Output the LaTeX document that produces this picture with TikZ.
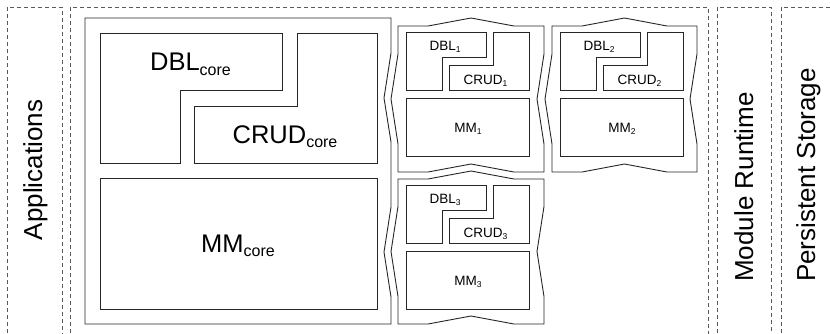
\documentclass[tikz,border=0pt]{standalone}
\usepackage{fontspec}
\setmainfont{Liberation Sans}

% lowered, smaller text for indices: size, drop, text
\newcommand\lowsub[3]{\raisebox{-#2pt}{\fontsize{#1}{#1}\selectfont #3}}

% one module piece: index, left, top, width, height
\newcommand\modpiece[5]{%
  \draw[box] (#2,#3) -- ({#2+30},#3) -- ({#2+#4/2},{#3-8}) -- ({#2+#4-30},#3)
    -- ({#2+#4},#3) -- ({#2+#4},{#3+#5/2-45}) -- ({#2+#4-7},{#3+#5/2})
    -- ({#2+#4},{#3+#5/2+45}) -- ({#2+#4},{#3+#5}) -- ({#2+#4-30},{#3+#5})
    -- ({#2+#4/2},{#3+#5-8}) -- ({#2+30},{#3+#5}) -- (#2,{#3+#5})
    -- (#2,{#3+#5/2+45}) -- ({#2-7},{#3+#5/2}) -- (#2,{#3+#5/2-45}) -- cycle;
  \draw[box] ({#2+8},{#3+6}) -- ({#2+88},{#3+6}) -- ({#2+88},{#3+31})
    -- ({#2+44},{#3+31}) -- ({#2+44},{#3+64}) -- ({#2+8},{#3+64}) -- cycle;
  \draw[box] ({#2+95},{#3+6}) -- ({#2+131},{#3+6}) -- ({#2+131},{#3+64})
    -- ({#2+51},{#3+64}) -- ({#2+51},{#3+39}) -- ({#2+95},{#3+39}) -- cycle;
  \draw[box] ({#2+8},{#3+72}) rectangle ({#2+131},{#3+130});
  \node[smalllabel] (dbl#1) at ({#2+47},{#3+24}) {DBL\lowsub{8.5}{2}{#1}};
  \node[smalllabel] (crud#1) at ({#2+87.5},{#3+58.5}) {CRUD\lowsub{8.5}{2}{#1}};
  \node[smalllabel] (mm#1) at ({#2+70},{#3+106}) {MM\lowsub{8.5}{2}{#1}};
}

\begin{document}
\begin{tikzpicture}[x=1pt,y=-1pt,
  box/.style={draw=black!85, line width=0.9pt, line join=miter},
  layer/.style={draw=black!65, line width=0.7pt, dash pattern=on 4pt off 3pt},
  biglabel/.style={font=\fontsize{25.5}{25.5}\selectfont, inner sep=0pt, anchor=base},
  smalllabel/.style={font=\fontsize{13.5}{13.5}\selectfont, inner sep=0pt, anchor=base},
  sidelabel/.style={font=\fontsize{26}{26}\selectfont, inner sep=0pt, anchor=base, rotate=90}]
\useasboundingbox (0,0) rectangle (830,333);
\begin{scope}
  \clip (0,0) rectangle (830,333);
  % layers, open at the bottom
  \draw[layer] (7,340) -- (7,7) -- (62,7) -- (62,340);
  \draw[layer] (70,340) -- (70,7) -- (708,7) -- (708,340);
  \draw[layer] (717,340) -- (717,7) -- (771,7) -- (771,340);
  \draw[layer] (781,340) -- (781,7) -- (840,7);
\end{scope}

\node[sidelabel] (apps) at (42,170) {Applications};
\node[sidelabel] (runtime) at (753,187) {Module Runtime};
\node[sidelabel] (storage) at (815,175) {Persistent Storage};

% core part
\draw[box] (85,18) -- (391,18) -- (391,53) -- (384,98) -- (391,142) -- (391,207)
  -- (384,252) -- (391,297) -- (391,324) -- (85,324) -- cycle;
\draw[box] (100,33) -- (282,33) -- (282,90) -- (180,90) -- (180,163.5) -- (100,163.5) -- cycle;
\draw[box] (297,33) -- (377,33) -- (377,163.5) -- (194,163.5) -- (194,106) -- (297,106) -- cycle;
\draw[box] (100,178) rectangle (377,309);
\node[biglabel] (dblcore) at (190.5,70.7) {DBL\lowsub{16}{4.3}{core}};
\node[biglabel] (crudcore) at (285,143) {CRUD\lowsub{16}{4.3}{core}};
\node[biglabel] (mmcore) at (238,252) {MM\lowsub{16}{4.3}{core}};

% module pieces
\modpiece{1}{398}{26}{146}{146}
\modpiece{2}{552}{26}{145}{146}
\modpiece{3}{398}{179}{146}{145}
\end{tikzpicture}
\end{document}
